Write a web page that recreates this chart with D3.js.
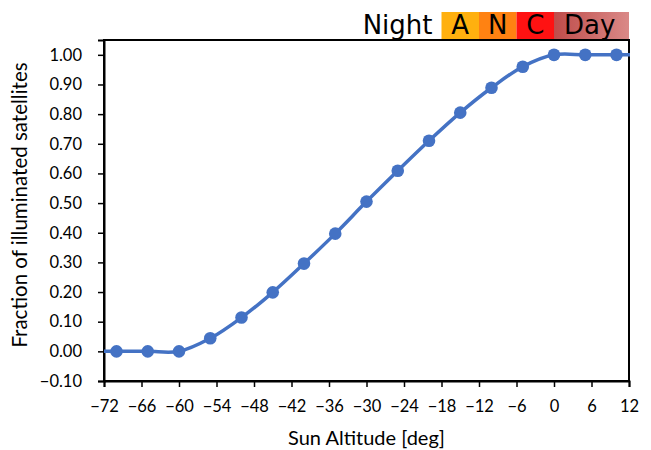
<!DOCTYPE html>
<html>
<head>
<meta charset="utf-8">
<script src="https://cdn.jsdelivr.net/npm/d3@7"></script>
<style>
body { margin: 0; background: #fff; }
svg { display: block; }
</style>
</head>
<body>
<script>
// ---- data ----
const altitudes = [-75, -70, -65, -60, -55, -50, -45, -40, -35, -30, -25, -20, -15, -10, -5, 0, 5, 10, 15];
const fractions = [0, 0, 0, 0, 0.044, 0.114, 0.199, 0.296, 0.397, 0.505, 0.609, 0.710, 0.805, 0.889, 0.960, 1.0, 1.0, 1.0, 1.0];
const xTickValues = [-72, -66, -60, -54, -48, -42, -36, -30, -24, -18, -12, -6, 0, 6, 12];
const yTickValues = [-0.1, 0, 0.1, 0.2, 0.3, 0.4, 0.5, 0.6, 0.7, 0.8, 0.9, 1.0];
const bandLabels = ["A", "N", "C", "Day"];
const bandStarts = [-18, -12, -6, 0];
const bandEnds = [-12, -6, 0, 12];
const bandColors = ["#FFB00F", "#FF8212", "#FF1212", "url(#dayGrad)"];
const nightLabel = "Night";
const xTitle = "Sun Altitude [deg]";
const yTitle = "Fraction of illuminated satellites";

const W = 651, H = 450;
const m = { left: 104, right: 629, top: 40, bottom: 381 };

const svg = d3.select("body").append("svg").attr("width", W).attr("height", H);

const defs = svg.append("defs");
const grad = defs.append("linearGradient").attr("id", "dayGrad").attr("x1", "0%").attr("x2", "100%");
grad.append("stop").attr("offset", "0%").attr("stop-color", "#BF4C4A");
grad.append("stop").attr("offset", "100%").attr("stop-color", "#DA8987");
defs.append("clipPath").attr("id", "plotClip").append("rect")
  .attr("x", m.left).attr("y", 0).attr("width", m.right - m.left + 1).attr("height", H);

const x = d3.scaleLinear().domain([-72, 12]).range([m.left, m.right]);
const y = d3.scaleLinear().domain([-0.1, 1.05]).range([m.bottom, m.top]);

// bands on top
const bands = svg.append("g");
bandLabels.forEach((lab, i) => {
  bands.append("rect")
    .attr("x", x(bandStarts[i])).attr("y", 12)
    .attr("width", x(bandEnds[i]) - x(bandStarts[i])).attr("height", m.top - 12)
    .attr("fill", bandColors[i]);
  bands.append("text")
    .attr("x", i === 3 ? x(bandStarts[i]) + 10 : (x(bandStarts[i]) + x(bandEnds[i])) / 2)
    .attr("y", 34)
    .attr("text-anchor", i === 3 ? "start" : "middle")
    .attr("font-family", "DejaVu Sans")
    .attr("font-size", 26)
    .attr("fill", "#000")
    .text(lab);
});
bands.append("text")
  .attr("x", x(-18) - 9).attr("y", 34)
  .attr("text-anchor", "end")
  .attr("font-family", "DejaVu Sans")
  .attr("font-size", 26)
  .attr("fill", "#000")
  .text(nightLabel);

// frame
svg.append("rect")
  .attr("x", m.left).attr("y", m.top)
  .attr("width", m.right - m.left).attr("height", m.bottom - m.top)
  .attr("fill", "none").attr("stroke", "#000").attr("stroke-width", 2);

// y axis
const yAxis = svg.append("g").attr("transform", `translate(${m.left},0)`)
  .call(d3.axisLeft(y).tickValues(yTickValues).tickFormat(d3.format(".2f")).tickSize(6).tickPadding(16));
yAxis.select(".domain").attr("stroke", "#000").attr("stroke-width", 2);
yAxis.selectAll(".tick line").attr("stroke", "#000").attr("stroke-width", 1.5);
yAxis.selectAll(".tick text").attr("font-family", "Lato").attr("font-size", 16.5).attr("fill", "#000");

// x axis
const xAxis = svg.append("g").attr("transform", `translate(0,${m.bottom})`)
  .call(d3.axisBottom(x).tickValues(xTickValues).tickFormat(d3.format("d")).tickSize(6).tickPadding(13));
xAxis.select(".domain").attr("stroke", "#000").attr("stroke-width", 2);
xAxis.selectAll(".tick line").attr("stroke", "#000").attr("stroke-width", 1.5);
xAxis.selectAll(".tick text").attr("font-family", "Lato").attr("font-size", 16.5).attr("fill", "#000");

// line
const pts = altitudes.map((a, i) => [a, fractions[i]]);
const plot = svg.append("g").attr("clip-path", "url(#plotClip)");
plot.append("path")
  .datum(pts)
  .attr("d", d3.line().x(d => x(d[0])).y(d => y(d[1])).curve(d3.curveCatmullRom.alpha(0.5)))
  .attr("fill", "none").attr("stroke", "#4472C4").attr("stroke-width", 3.5);
plot.selectAll("circle").data(pts.filter(d => d[0] >= -72 && d[0] <= 12)).enter().append("circle")
  .attr("cx", d => x(d[0])).attr("cy", d => y(d[1])).attr("r", 6.3).attr("fill", "#4472C4");

// titles
svg.append("text").attr("x", (m.left + m.right) / 2).attr("y", 445)
  .attr("text-anchor", "middle").attr("font-family", "Lato").attr("font-size", 20).attr("fill", "#000")
  .text(xTitle);
svg.append("text").attr("transform", `translate(27,205) rotate(-90)`)
  .attr("text-anchor", "middle").attr("font-family", "Lato").attr("font-size", 20.5).attr("fill", "#000")
  .text(yTitle);
</script>
</body>
</html>
